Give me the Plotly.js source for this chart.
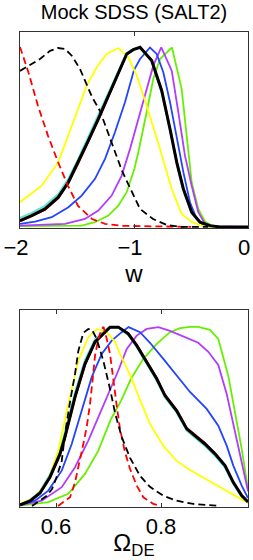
<!DOCTYPE html>
<html>
<head>
<meta charset="utf-8">
<script src="https://cdn.plot.ly/plotly-3.0.1.min.js"></script>
<style>html,body{margin:0;padding:0;background:#fff;}</style>
</head>
<body>
<div id="chart" style="width:253px;height:560px;"></div>
<script>
// ---------- Top panel: w (dark-energy equation of state) ----------
const wRedDash   = [-2.0,-1.927,-1.842,-1.754,-1.667,-1.579,-1.491,-1.368,-1.254,-1.105,-0.5];
const pRedDash   = [1.0,0.861,0.672,0.506,0.361,0.228,0.117,0.044,0.017,0.006,0];
const wBlackDash = [-2.0,-1.912,-1.825,-1.737,-1.667,-1.605,-1.544,-1.474,-1.412,-1.368,-1.298,-1.202,-1.105,-1.018,-0.947,-0.833,-0.711,-0.596,-0.35];
const pBlackDash = [0.867,0.9,0.933,0.978,0.994,0.989,0.95,0.878,0.783,0.722,0.644,0.478,0.311,0.194,0.1,0.044,0.011,0,0];
const wYellow    = [-2.0,-1.810,-1.664,-1.576,-1.489,-1.415,-1.327,-1.240,-1.138,-1.050,-0.976,-0.889,-0.772,-0.669,-0.582,-0.494,-0.406,-0.333,0];
const pYellow    = [0.137,0.229,0.359,0.507,0.656,0.785,0.887,0.961,0.994,0.944,0.841,0.674,0.433,0.211,0.072,0.028,0.006,0,0];
const wBlack     = [-2.0,-1.897,-1.781,-1.664,-1.576,-1.489,-1.401,-1.313,-1.225,-1.138,-1.064,-1.006,-0.947,-0.845,-0.757,-0.684,-0.625,-0.567,-0.494,-0.421,-0.333,-0.246,0];
const pBlack     = [0.035,0.063,0.1,0.165,0.248,0.359,0.479,0.6,0.729,0.859,0.961,0.985,0.998,0.924,0.757,0.544,0.359,0.211,0.082,0.026,0.007,0,0];
const pCyan      = [0.05,0.078,0.117,0.183,0.267,0.378,0.5,0.622,0.75,0.872,0.967,0.987,0.997,0.92,0.75,0.535,0.35,0.2,0.078,0.024,0.006,0,0];
const pRed       = [0.03,0.058,0.094,0.158,0.24,0.35,0.47,0.59,0.72,0.85,0.955,0.985,0.998,0.93,0.765,0.552,0.367,0.217,0.085,0.028,0.008,0,0];
const wBlue      = [-2.0,-1.868,-1.722,-1.576,-1.459,-1.342,-1.254,-1.167,-1.079,-1.0,-0.947,-0.860,-0.801,-0.743,-0.684,-0.625,-0.567,-0.509,-0.450,-0.392,-0.333,0];
const pBlue      = [0.017,0.029,0.054,0.109,0.174,0.267,0.378,0.526,0.693,0.872,0.933,0.997,0.961,0.859,0.693,0.489,0.304,0.137,0.044,0.011,0,0];
const wPurple    = [-2.0,-1.605,-1.430,-1.313,-1.196,-1.108,-1.035,-0.976,-0.904,-0.831,-0.761,-0.669,-0.611,-0.553,-0.494,-0.436,-0.377,-0.316,0];
const pPurple    = [0.007,0.017,0.044,0.091,0.174,0.285,0.433,0.563,0.729,0.896,0.997,0.868,0.637,0.396,0.229,0.082,0.017,0.003,0];
const wGreen     = [-2.0,-1.459,-1.342,-1.225,-1.138,-1.064,-0.997,-0.962,-0.889,-0.831,-0.772,-0.667,-0.582,-0.494,-0.436,-0.377,-0.318,-0.272,0];
const pGreen     = [0.004,0.007,0.026,0.063,0.118,0.193,0.322,0.415,0.637,0.822,0.933,0.997,0.767,0.248,0.1,0.029,0.007,0,0];

// ---------- Bottom panel: Omega_DE ----------
const oRedDash   = [0.6038,0.6267,0.6362,0.6457,0.652,0.6585,0.6648,0.6699,0.6743,0.6806,0.687,0.6905,0.6966,0.7029,0.7091,0.7156,0.7219,0.7314,0.741,0.7537,0.7663,0.7853,0.7981];
const qRedDash   = [0,0.048,0.131,0.25,0.344,0.439,0.567,0.706,0.835,0.928,0.983,0.994,0.928,0.844,0.687,0.557,0.428,0.298,0.206,0.113,0.048,0.011,0];
const oBlackDash = [0.5543,0.5823,0.5924,0.6013,0.6109,0.6171,0.6267,0.6362,0.6425,0.652,0.6615,0.6686,0.6775,0.6901,0.7029,0.7124,0.7251,0.741,0.76,0.779,0.8044,0.8299,0.8615,0.9124];
const qBlackDash = [0,0.056,0.094,0.161,0.25,0.4,0.578,0.733,0.861,0.961,0.983,0.978,0.928,0.806,0.65,0.517,0.383,0.267,0.167,0.106,0.056,0.029,0.011,0];
const oYellow    = [0.5314,0.560,0.5853,0.6044,0.6234,0.6425,0.6615,0.6781,0.6966,0.7124,0.7219,0.741,0.76,0.779,0.8044,0.8299,0.8552,0.8966,0.9282,0.9581,0.9657];
const qYellow    = [0.011,0.048,0.141,0.307,0.567,0.807,0.937,0.983,0.965,0.911,0.844,0.728,0.589,0.456,0.333,0.25,0.2,0.132,0.076,0.028,0.022];
const oBlack     = [0.5314,0.5505,0.5695,0.5886,0.6076,0.6171,0.6362,0.6552,0.6743,0.6933,0.7029,0.7187,0.7377,0.7537,0.7728,0.7918,0.8076,0.8299,0.849,0.8648,0.8838,0.9029,0.9219,0.9377,0.9537,0.9619,0.9657];
const qBlack     = [0.006,0.028,0.072,0.161,0.289,0.383,0.606,0.789,0.911,0.967,0.993,0.993,0.956,0.891,0.798,0.706,0.613,0.528,0.428,0.389,0.344,0.289,0.224,0.131,0.057,0.033,0.022];
const qCyan      = [0.008,0.033,0.08,0.175,0.31,0.41,0.63,0.81,0.925,0.975,0.993,0.99,0.95,0.883,0.79,0.697,0.603,0.518,0.418,0.378,0.333,0.278,0.213,0.122,0.05,0.028,0.018];
const qRed       = [0.005,0.025,0.068,0.155,0.28,0.372,0.595,0.78,0.905,0.965,0.993,0.995,0.962,0.898,0.806,0.714,0.62,0.535,0.435,0.395,0.35,0.294,0.228,0.135,0.06,0.035,0.025];
const oBlue      = [0.5314,0.56,0.5853,0.6109,0.6299,0.649,0.668,0.687,0.7061,0.7251,0.7381,0.76,0.779,0.8044,0.8299,0.8552,0.887,0.9091,0.9251,0.9377,0.9537,0.9632,0.9657];
const qBlue      = [0.006,0.029,0.085,0.196,0.344,0.53,0.715,0.844,0.918,0.965,0.993,0.965,0.906,0.817,0.722,0.633,0.539,0.446,0.335,0.224,0.113,0.057,0.044];
const oPurple    = [0.5314,0.5728,0.6109,0.6362,0.6615,0.6806,0.6996,0.7187,0.7347,0.7537,0.7728,0.7949,0.8171,0.849,0.871,0.8901,0.9091,0.9251,0.9377,0.9505,0.9632,0.9657];
const qPurple    = [0.003,0.029,0.104,0.215,0.363,0.493,0.622,0.752,0.872,0.946,0.983,0.993,0.972,0.933,0.906,0.856,0.783,0.622,0.456,0.272,0.106,0.083];
const oGreen     = [0.5314,0.5853,0.6234,0.6552,0.6806,0.7048,0.7238,0.7429,0.7663,0.7918,0.8171,0.8362,0.8552,0.871,0.8933,0.9091,0.9282,0.941,0.9537,0.9632,0.9663];
const qGreen     = [0.002,0.021,0.067,0.178,0.307,0.483,0.583,0.706,0.817,0.9,0.965,0.987,0.994,0.994,0.978,0.928,0.722,0.522,0.317,0.139,0.078];

const topTicks = [-2, -1, 0];
const topTickText = ['\u22122', '\u22121', '0'];
const botTicks = [0.6, 0.8];
const botTickText = ['0.6', '0.8'];

const C = {yellow:'#ffff00', cyan:'#5fe6d2', red:'#ff0000', blue:'#2244ff', purple:'#b03cff', green:'#66f000', black:'#000000'};
const DASH = '7px,4px';

function tr(x, y, color, width, dash, ax) {
  return {x: x, y: y, type: 'scatter', mode: 'lines', xaxis: ax[0], yaxis: ax[1], hoverinfo: 'skip',
          line: {color: color, width: width, dash: dash || 'solid'}};
}
const A1 = ['x','y'], A2 = ['x2','y2'];
const data = [
  tr(wBlack, pCyan, C.cyan, 2, null, A1),
  tr(wBlack, pRed, C.red, 1.5, null, A1),
  tr(wGreen, pGreen, C.green, 1.8, null, A1),
  tr(wPurple, pPurple, C.purple, 1.8, null, A1),
  tr(wBlue, pBlue, C.blue, 1.8, null, A1),
  tr(wYellow, pYellow, C.yellow, 1.8, null, A1),
  tr(wBlack, pBlack, C.black, 3, null, A1),
  tr(wRedDash, pRedDash, C.red, 1.8, DASH, A1),
  tr(wBlackDash, pBlackDash, C.black, 1.8, DASH, A1),

  tr(oBlack, qCyan, C.cyan, 2, null, A2),
  tr(oBlack, qRed, C.red, 1.5, null, A2),
  tr(oGreen, qGreen, C.green, 1.8, null, A2),
  tr(oPurple, qPurple, C.purple, 1.8, null, A2),
  tr(oBlue, qBlue, C.blue, 1.8, null, A2),
  tr(oYellow, qYellow, C.yellow, 1.8, null, A2),
  tr(oBlack, qBlack, C.black, 3, null, A2),
  tr(oRedDash, qRedDash, C.red, 1.8, DASH, A2),
  tr(oBlackDash, qBlackDash, C.black, 1.8, DASH, A2)
];

const FONT = 'Liberation Sans, Arial, Helvetica, sans-serif';
const axLine = '#333333';
function xax(range, tv, tt, title, anchor, shift, standoff) {
  return {anchor: anchor, range: range, tickmode: 'array', tickvals: tv, ticktext: tt,
          ticks: 'inside', ticklen: 4, tickwidth: 1, tickcolor: axLine,
          ticklabelshift: shift,
          showline: true, linecolor: axLine, linewidth: 1, mirror: 'ticks',
          showgrid: false, zeroline: false, fixedrange: true,
          tickfont: {size: 22, family: FONT, color: '#000'},
          title: {text: title, font: {size: 24, family: FONT, color: '#000'}, standoff: standoff}};
}
function yax(domain, range) {
  return {domain: domain, range: range, showticklabels: false, ticks: '',
          showline: true, linecolor: axLine, linewidth: 1, mirror: true,
          showgrid: false, zeroline: false, fixedrange: true};
}
const layout = {
  width: 253, height: 560,
  margin: {l: 20, r: 5, t: 32, b: 53, pad: 0},
  paper_bgcolor: '#ffffff', plot_bgcolor: '#ffffff',
  showlegend: false,
  font: {family: FONT, color: '#000'},
  title: {text: 'Mock SDSS (SALT2)', font: {size: 20, family: FONT, color: '#000'},
          x: 0.5, xref: 'paper', xanchor: 'center', y: 1 - 12/560, yref: 'container', yanchor: 'middle'},
  xaxis: xax([-2, 0], topTicks, topTickText, 'w', 'y', -4, 0),
  yaxis: yax([0.5874, 1], [-0.006, 1.083]),
  xaxis2: xax([0.5314, 0.9657], botTicks, botTickText, '\u03a9<sub>DE</sub>', 'y2', 0, 0),
  yaxis2: yax([0, 0.4147], [-0.006, 1.088])
};
Plotly.newPlot('chart', data, layout, {displayModeBar: false, staticPlot: true});
</script>
</body>
</html>
